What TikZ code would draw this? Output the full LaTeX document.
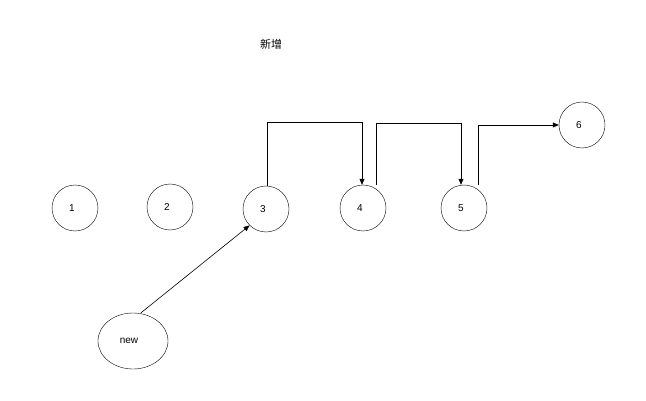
\documentclass[tikz,border=0pt]{standalone}
\usepackage{fontspec}
\setmainfont{Liberation Sans}
\newfontfamily\cjk{Noto Sans CJK SC}
\usetikzlibrary{arrows.meta,shapes.geometric}
\begin{document}
\begin{tikzpicture}[x=1pt,y=-1pt,
  cnode/.style={draw,circle,minimum size=46pt,inner sep=0pt,font=\fontsize{10}{12}\selectfont,text depth=0pt,text height=7pt,align=left},
  conn/.style={draw,-{Triangle[length=6pt,width=5pt]},line width=0.6pt}]
\useasboundingbox (0,0) rectangle (646,401);
\node[font=\cjk\fontsize{11}{13}\selectfont] (t) at (271,44) {新增};
\node[cnode] (n1) at (75,208) {1\hspace{6pt}};
\node[cnode] (n2) at (170,207) {2\hspace{6pt}};
\node[cnode] (n3) at (266,209) {3\hspace{6pt}};
\node[cnode] (n4) at (363,208) {4\hspace{6pt}};
\node[cnode] (n5) at (464,208) {5\hspace{6pt}};
\node[cnode] (n6) at (582,125) {6\hspace{6pt}};
\node[draw,ellipse,minimum width=70pt,minimum height=56pt,inner sep=0pt,font=\fontsize{10}{12}\selectfont] (nw) at (133,341) {new\hspace{8pt}\raisebox{5pt}{}};
\draw[conn] ([xshift=1pt]n3.north) -- ++(0,-63) -| ([xshift=-1pt]n4.north);
\draw[conn] ([xshift=13pt]n4.north) |- (461,123) -- ([xshift=-3pt]n5.north);
\draw[conn] ([xshift=14pt]n5.north) |- (n6.west);
\draw[conn] (nw.north) ++(8,0) -- (n3.225);
\end{tikzpicture}
\end{document}
